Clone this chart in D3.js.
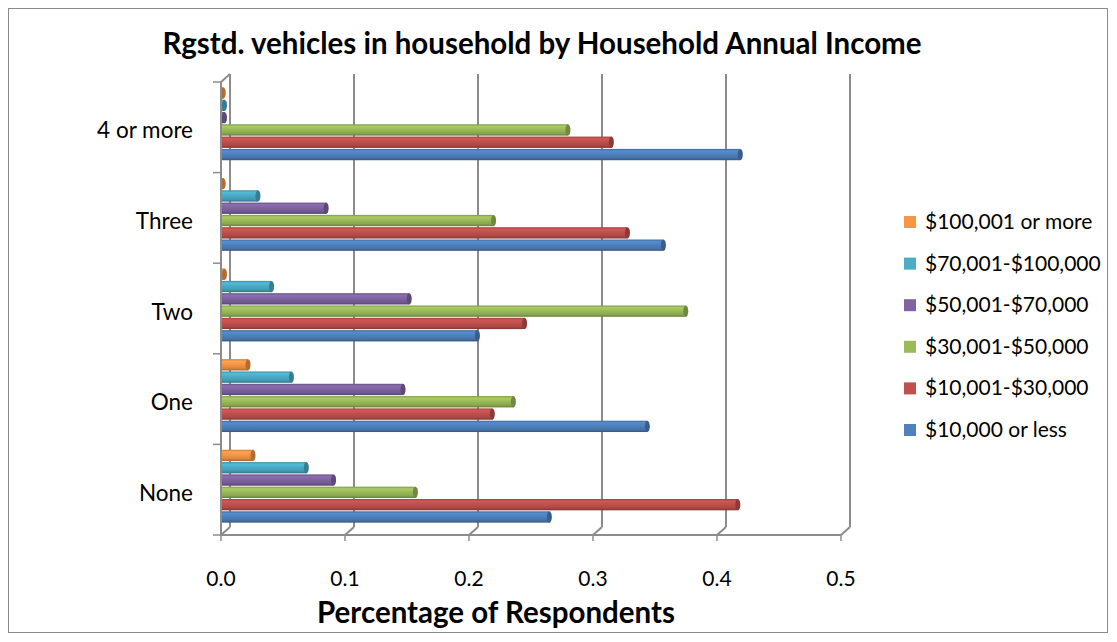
<!DOCTYPE html>
<html>
<head>
<meta charset="utf-8">
<script src="https://cdn.jsdelivr.net/npm/d3@7"></script>
<style>
  html, body { margin: 0; padding: 0; background: #fff; }
  svg { display: block; font-family: Lato, "Liberation Sans", sans-serif; }
</style>
</head>
<body>
<svg id="chart" width="1117" height="642"></svg>
<script>
// Vehicle ownership categories (bottom to top on the chart)
const categories = ["None", "One", "Two", "Three", "4 or more"];

// Income groups, in legend order (top to bottom)
const seriesNames = [
  "$100,001 or more",
  "$70,001-$100,000",
  "$50,001-$70,000",
  "$30,001-$50,000",
  "$10,001-$30,000",
  "$10,000 or less"
];

// Share of respondents per category: None, One, Two, Three, 4 or more
const inc100kPlus   = [0.025, 0.021, 0.002, 0.001, 0.001];
const inc70to100k   = [0.068, 0.056, 0.040, 0.029, 0.002];
const inc50to70k    = [0.090, 0.146, 0.151, 0.084, 0.002];
const inc30to50k    = [0.156, 0.235, 0.374, 0.219, 0.279];
const inc10to30k    = [0.416, 0.218, 0.244, 0.327, 0.314];
const inc10kOrLess  = [0.264, 0.343, 0.206, 0.356, 0.418];

const seriesValues = [inc100kPlus, inc70to100k, inc50to70k, inc30to50k, inc10to30k, inc10kOrLess];
const seriesColors = ["#F79646", "#4BACC6", "#8064A2", "#9BBB59", "#C0504D", "#4F81BD"];

const tickValues = [0, 0.1, 0.2, 0.3, 0.4, 0.5];

const svg = d3.select("#chart");

// Outer chart frame
svg.append("rect")
  .attr("x", 8.5).attr("y", 8.5).attr("width", 1099).attr("height", 624)
  .attr("fill", "#fff").attr("stroke", "#8a8a8a").attr("stroke-width", 1);

// Front plane and back wall geometry (depth offset)
const depthX = 9, depthY = -8;
const frontTop = 82, frontBottom = 535;

const xFront = d3.scaleLinear().domain([0, 0.5]).range([221, 841]);
const xBack  = d3.scaleLinear().domain([0, 0.5]).range([221 + depthX, 841 + depthX]);
const xBar   = d3.scaleLinear().domain([0, 0.5]).range([222, 842]);

const y = d3.scaleBand().domain(categories).range([frontBottom, frontTop]).paddingInner(0).paddingOuter(0);
const yInner = d3.scaleBand().domain(seriesNames).range([0, y.bandwidth()]).paddingInner(0).paddingOuter(0.68);

const gridColor = "#8c8c8c";
const grid = svg.append("g");

// Back-wall vertical gridlines
grid.selectAll("line.gl")
  .data(tickValues)
  .join("line")
  .attr("class", "gl")
  .attr("x1", d => xBack(d)).attr("x2", d => xBack(d))
  .attr("y1", frontTop + depthY).attr("y2", frontBottom + depthY)
  .attr("stroke", gridColor).attr("stroke-width", 2);

// Floor depth connectors
grid.selectAll("line.conn")
  .data(tickValues)
  .join("line")
  .attr("class", "conn")
  .attr("x1", d => xFront(d)).attr("x2", d => xBack(d))
  .attr("y1", frontBottom).attr("y2", frontBottom + depthY)
  .attr("stroke", gridColor).attr("stroke-width", 2);

// Left wall: top connector
grid.append("line")
  .attr("x1", xFront(0)).attr("x2", xBack(0))
  .attr("y1", frontTop).attr("y2", frontTop + depthY)
  .attr("stroke", gridColor).attr("stroke-width", 2);

// Gradients for the cylinder-like bars
const defs = svg.append("defs");
seriesNames.forEach((name, i) => {
  const c = d3.color(seriesColors[i]);
  const g = defs.append("linearGradient")
    .attr("id", "grad" + i).attr("x1", 0).attr("y1", 0).attr("x2", 0).attr("y2", 1);
  g.append("stop").attr("offset", "0%").attr("stop-color", c.darker(0.6));
  g.append("stop").attr("offset", "18%").attr("stop-color", c.brighter(0.25));
  g.append("stop").attr("offset", "45%").attr("stop-color", c);
  g.append("stop").attr("offset", "80%").attr("stop-color", c.darker(0.35));
  g.append("stop").attr("offset", "100%").attr("stop-color", c.darker(1.1));
});

// Bars (drawn slightly up to sit at mid-depth)
const barShift = -3;
const bars = svg.append("g");
categories.forEach((cat, ci) => {
  seriesNames.forEach((name, si) => {
    const v = seriesValues[si][ci];
    const y0 = y(cat) + yInner(name) + barShift;
    const h = yInner.bandwidth() - 1;
    const x0 = xBar(0), x1 = xBar(v);
    bars.append("rect")
      .attr("x", x0).attr("y", y0)
      .attr("width", Math.max(0, x1 - x0)).attr("height", h)
      .attr("fill", "url(#grad" + si + ")");
    bars.append("ellipse")
      .attr("cx", x1).attr("cy", y0 + h / 2)
      .attr("rx", 2.5).attr("ry", h / 2)
      .attr("fill", d3.color(seriesColors[si]).darker(0.9));
  });
});

// Left axis line and category ticks
const axisG = svg.append("g");
axisG.append("line")
  .attr("x1", xFront(0)).attr("x2", xFront(0))
  .attr("y1", frontTop).attr("y2", frontBottom)
  .attr("stroke", gridColor).attr("stroke-width", 2);
const catBounds = categories.map(c => y(c)).concat([frontBottom]);
axisG.selectAll("line.ct")
  .data(catBounds)
  .join("line")
  .attr("class", "ct")
  .attr("x1", xFront(0) - 8).attr("x2", xFront(0))
  .attr("y1", d => d).attr("y2", d => d)
  .attr("stroke", gridColor).attr("stroke-width", 1.5);

// Bottom axis line and ticks
axisG.append("line")
  .attr("x1", xFront(0) - 1).attr("x2", xFront(0.5))
  .attr("y1", frontBottom).attr("y2", frontBottom)
  .attr("stroke", gridColor).attr("stroke-width", 2);
axisG.selectAll("line.xt")
  .data(tickValues)
  .join("line")
  .attr("class", "xt")
  .attr("x1", d => xFront(d)).attr("x2", d => xFront(d))
  .attr("y1", frontBottom).attr("y2", frontBottom + 6)
  .attr("stroke", gridColor).attr("stroke-width", 1.5);

// Tick labels
svg.append("g").selectAll("text")
  .data(tickValues)
  .join("text")
  .attr("x", d => xFront(d)).attr("y", 586)
  .attr("text-anchor", "middle")
  .attr("font-size", 21).attr("fill", "#000")
  .text(d3.format(".1f"));

// Category labels
svg.append("g").selectAll("text")
  .data(categories)
  .join("text")
  .attr("x", 193)
  .attr("y", d => y(d) + y.bandwidth() / 2 + 11)
  .attr("text-anchor", "end")
  .attr("font-size", 22.5).attr("fill", "#000")
  .text(d => d);

// Title
svg.append("text")
  .attr("x", 542).attr("y", 54)
  .attr("text-anchor", "middle")
  .attr("font-size", 29.5).attr("font-weight", "bold").attr("fill", "#000")
  .text("Rgstd. vehicles in household by Household Annual Income");

// Axis title
svg.append("text")
  .attr("x", 496).attr("y", 623)
  .attr("text-anchor", "middle")
  .attr("font-size", 29.5).attr("font-weight", "bold").attr("fill", "#000")
  .text("Percentage of Respondents");

// Legend
const legend = svg.append("g");
const legendY = d3.scalePoint().domain(seriesNames).range([222, 430]);
seriesNames.forEach((name, i) => {
  legend.append("rect")
    .attr("x", 904).attr("y", legendY(name) - 6)
    .attr("width", 12).attr("height", 12)
    .attr("fill", seriesColors[i]);
  legend.append("text")
    .attr("x", 925).attr("y", legendY(name) + 7)
    .attr("font-size", 21).attr("fill", "#000")
    .text(name);
});
</script>
</body>
</html>
